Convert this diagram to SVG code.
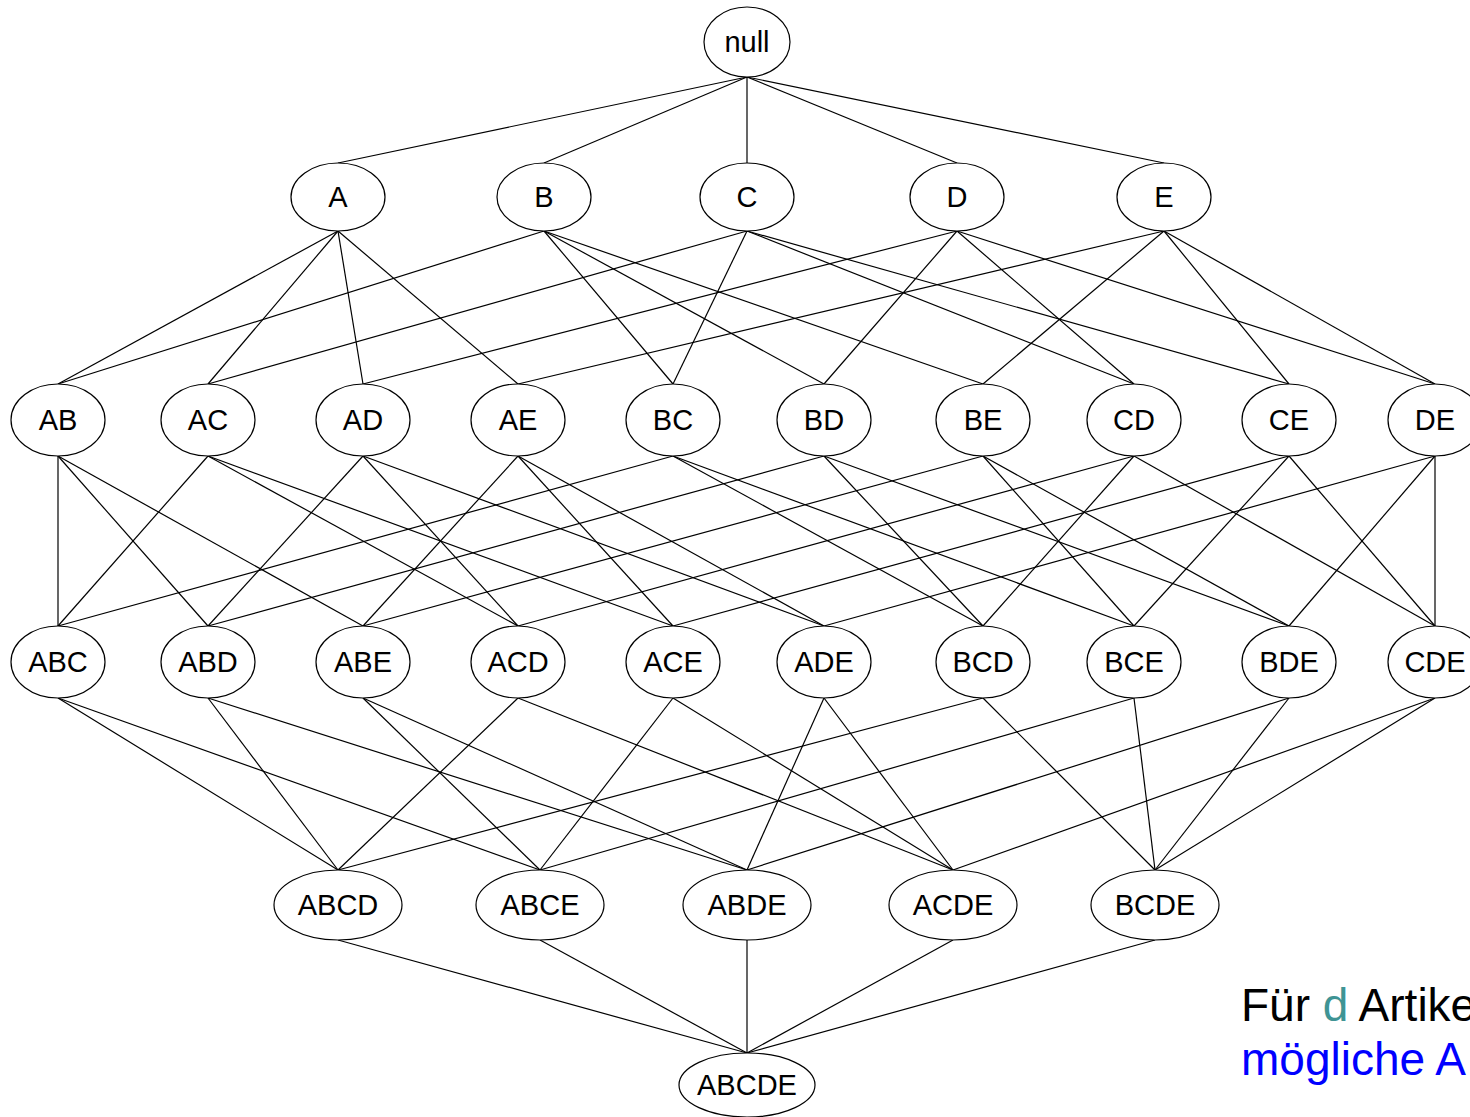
<svg xmlns="http://www.w3.org/2000/svg" width="1470" height="1117" viewBox="0 0 1470 1117">
<style>
.n ellipse{fill:#fff;stroke:#000;stroke-width:1.2}
.n text{font-family:"Liberation Sans",Arial,sans-serif;font-size:29px;text-anchor:middle;fill:#000}
#edges line{stroke:#000;stroke-width:1.2}
.cap{font-family:"Liberation Sans",Arial,sans-serif;font-size:46px}
</style>
<rect width="1470" height="1117" fill="#fff"/>
<g id="edges">
<line x1="747" y1="77" x2="338" y2="163"/><line x1="747" y1="77" x2="544" y2="163"/><line x1="747" y1="77" x2="747" y2="163"/><line x1="747" y1="77" x2="957" y2="163"/><line x1="747" y1="77" x2="1164" y2="163"/>
<line x1="338" y1="231" x2="58" y2="384"/><line x1="338" y1="231" x2="208" y2="384"/><line x1="338" y1="231" x2="363" y2="384"/><line x1="338" y1="231" x2="518" y2="384"/>
<line x1="544" y1="231" x2="58" y2="384"/><line x1="544" y1="231" x2="673" y2="384"/><line x1="544" y1="231" x2="824" y2="384"/><line x1="544" y1="231" x2="983" y2="384"/>
<line x1="747" y1="231" x2="208" y2="384"/><line x1="747" y1="231" x2="673" y2="384"/><line x1="747" y1="231" x2="1134" y2="384"/><line x1="747" y1="231" x2="1289" y2="384"/>
<line x1="957" y1="231" x2="363" y2="384"/><line x1="957" y1="231" x2="824" y2="384"/><line x1="957" y1="231" x2="1134" y2="384"/><line x1="957" y1="231" x2="1435" y2="384"/>
<line x1="1164" y1="231" x2="518" y2="384"/><line x1="1164" y1="231" x2="983" y2="384"/><line x1="1164" y1="231" x2="1289" y2="384"/><line x1="1164" y1="231" x2="1435" y2="384"/>
<line x1="58" y1="456" x2="58" y2="626"/><line x1="58" y1="456" x2="208" y2="626"/><line x1="58" y1="456" x2="363" y2="626"/>
<line x1="208" y1="456" x2="58" y2="626"/><line x1="208" y1="456" x2="518" y2="626"/><line x1="208" y1="456" x2="673" y2="626"/>
<line x1="363" y1="456" x2="208" y2="626"/><line x1="363" y1="456" x2="518" y2="626"/><line x1="363" y1="456" x2="824" y2="626"/>
<line x1="518" y1="456" x2="363" y2="626"/><line x1="518" y1="456" x2="673" y2="626"/><line x1="518" y1="456" x2="824" y2="626"/>
<line x1="673" y1="456" x2="58" y2="626"/><line x1="673" y1="456" x2="983" y2="626"/><line x1="673" y1="456" x2="1134" y2="626"/>
<line x1="824" y1="456" x2="208" y2="626"/><line x1="824" y1="456" x2="983" y2="626"/><line x1="824" y1="456" x2="1289" y2="626"/>
<line x1="983" y1="456" x2="363" y2="626"/><line x1="983" y1="456" x2="1134" y2="626"/><line x1="983" y1="456" x2="1289" y2="626"/>
<line x1="1134" y1="456" x2="518" y2="626"/><line x1="1134" y1="456" x2="983" y2="626"/><line x1="1134" y1="456" x2="1435" y2="626"/>
<line x1="1289" y1="456" x2="673" y2="626"/><line x1="1289" y1="456" x2="1134" y2="626"/><line x1="1289" y1="456" x2="1435" y2="626"/>
<line x1="1435" y1="456" x2="824" y2="626"/><line x1="1435" y1="456" x2="1289" y2="626"/><line x1="1435" y1="456" x2="1435" y2="626"/>
<line x1="58" y1="698" x2="338" y2="870"/><line x1="58" y1="698" x2="540" y2="870"/>
<line x1="208" y1="698" x2="338" y2="870"/><line x1="208" y1="698" x2="747" y2="870"/>
<line x1="363" y1="698" x2="540" y2="870"/><line x1="363" y1="698" x2="747" y2="870"/>
<line x1="518" y1="698" x2="338" y2="870"/><line x1="518" y1="698" x2="953" y2="870"/>
<line x1="673" y1="698" x2="540" y2="870"/><line x1="673" y1="698" x2="953" y2="870"/>
<line x1="824" y1="698" x2="747" y2="870"/><line x1="824" y1="698" x2="953" y2="870"/>
<line x1="983" y1="698" x2="338" y2="870"/><line x1="983" y1="698" x2="1155" y2="870"/>
<line x1="1134" y1="698" x2="540" y2="870"/><line x1="1134" y1="698" x2="1155" y2="870"/>
<line x1="1289" y1="698" x2="747" y2="870"/><line x1="1289" y1="698" x2="1155" y2="870"/>
<line x1="1435" y1="698" x2="953" y2="870"/><line x1="1435" y1="698" x2="1155" y2="870"/>
<line x1="338" y1="940" x2="747" y2="1053"/><line x1="540" y1="940" x2="747" y2="1053"/><line x1="747" y1="940" x2="747" y2="1053"/><line x1="953" y1="940" x2="747" y2="1053"/><line x1="1155" y1="940" x2="747" y2="1053"/>
</g>
<g id="null" class="n"><ellipse cx="747" cy="42" rx="43" ry="35"/><text x="747" y="52">null</text></g>
<g id="A" class="n"><ellipse cx="338" cy="197" rx="47" ry="34"/><text x="338" y="207">A</text></g>
<g id="B" class="n"><ellipse cx="544" cy="197" rx="47" ry="34"/><text x="544" y="207">B</text></g>
<g id="C" class="n"><ellipse cx="747" cy="197" rx="47" ry="34"/><text x="747" y="207">C</text></g>
<g id="D" class="n"><ellipse cx="957" cy="197" rx="47" ry="34"/><text x="957" y="207">D</text></g>
<g id="E" class="n"><ellipse cx="1164" cy="197" rx="47" ry="34"/><text x="1164" y="207">E</text></g>
<g id="AB" class="n"><ellipse cx="58" cy="420" rx="47" ry="36"/><text x="58" y="430">AB</text></g>
<g id="AC" class="n"><ellipse cx="208" cy="420" rx="47" ry="36"/><text x="208" y="430">AC</text></g>
<g id="AD" class="n"><ellipse cx="363" cy="420" rx="47" ry="36"/><text x="363" y="430">AD</text></g>
<g id="AE" class="n"><ellipse cx="518" cy="420" rx="47" ry="36"/><text x="518" y="430">AE</text></g>
<g id="BC" class="n"><ellipse cx="673" cy="420" rx="47" ry="36"/><text x="673" y="430">BC</text></g>
<g id="BD" class="n"><ellipse cx="824" cy="420" rx="47" ry="36"/><text x="824" y="430">BD</text></g>
<g id="BE" class="n"><ellipse cx="983" cy="420" rx="47" ry="36"/><text x="983" y="430">BE</text></g>
<g id="CD" class="n"><ellipse cx="1134" cy="420" rx="47" ry="36"/><text x="1134" y="430">CD</text></g>
<g id="CE" class="n"><ellipse cx="1289" cy="420" rx="47" ry="36"/><text x="1289" y="430">CE</text></g>
<g id="DE" class="n"><ellipse cx="1435" cy="420" rx="47" ry="36"/><text x="1435" y="430">DE</text></g>
<g id="ABC" class="n"><ellipse cx="58" cy="662" rx="47" ry="36"/><text x="58" y="672">ABC</text></g>
<g id="ABD" class="n"><ellipse cx="208" cy="662" rx="47" ry="36"/><text x="208" y="672">ABD</text></g>
<g id="ABE" class="n"><ellipse cx="363" cy="662" rx="47" ry="36"/><text x="363" y="672">ABE</text></g>
<g id="ACD" class="n"><ellipse cx="518" cy="662" rx="47" ry="36"/><text x="518" y="672">ACD</text></g>
<g id="ACE" class="n"><ellipse cx="673" cy="662" rx="47" ry="36"/><text x="673" y="672">ACE</text></g>
<g id="ADE" class="n"><ellipse cx="824" cy="662" rx="47" ry="36"/><text x="824" y="672">ADE</text></g>
<g id="BCD" class="n"><ellipse cx="983" cy="662" rx="47" ry="36"/><text x="983" y="672">BCD</text></g>
<g id="BCE" class="n"><ellipse cx="1134" cy="662" rx="47" ry="36"/><text x="1134" y="672">BCE</text></g>
<g id="BDE" class="n"><ellipse cx="1289" cy="662" rx="47" ry="36"/><text x="1289" y="672">BDE</text></g>
<g id="CDE" class="n"><ellipse cx="1435" cy="662" rx="47" ry="36"/><text x="1435" y="672">CDE</text></g>
<g id="ABCD" class="n"><ellipse cx="338" cy="905" rx="64" ry="35"/><text x="338" y="915">ABCD</text></g>
<g id="ABCE" class="n"><ellipse cx="540" cy="905" rx="64" ry="35"/><text x="540" y="915">ABCE</text></g>
<g id="ABDE" class="n"><ellipse cx="747" cy="905" rx="64" ry="35"/><text x="747" y="915">ABDE</text></g>
<g id="ACDE" class="n"><ellipse cx="953" cy="905" rx="64" ry="35"/><text x="953" y="915">ACDE</text></g>
<g id="BCDE" class="n"><ellipse cx="1155" cy="905" rx="64" ry="35"/><text x="1155" y="915">BCDE</text></g>
<g id="ABCDE" class="n"><ellipse cx="747" cy="1085" rx="68" ry="32"/><text x="747" y="1095">ABCDE</text></g>
<text class="cap" x="1241" y="1021" fill="#000">Für <tspan fill="#3f9494">d</tspan> Artike</text>
<text class="cap" x="1241" y="1075" fill="#0000ff">mögliche A</text>
</svg>
